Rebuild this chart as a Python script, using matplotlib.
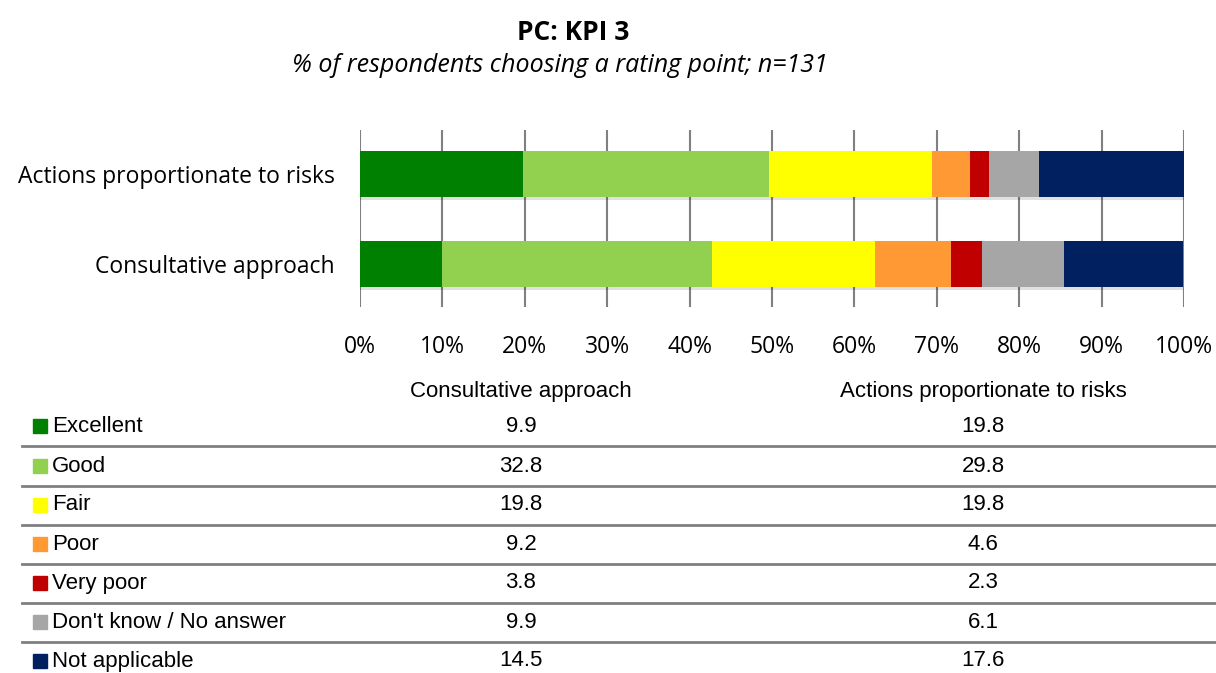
#!/usr/bin/env python3
# -*- coding: utf-8 -*-
import matplotlib
matplotlib.use("Agg")
import matplotlib.pyplot as plt
import matplotlib.patheffects as pe

# Survey data: % of respondents per rating point (n=131)
categories = ["Consultative approach", "Actions proportionate to risks"]
ratings = ["Excellent", "Good", "Fair", "Poor", "Very poor",
           "Don't know / No answer", "Not applicable"]
consultative = [9.9, 32.8, 19.8, 9.2, 3.8, 9.9, 14.5]
actions = [19.8, 29.8, 19.8, 4.6, 2.3, 6.1, 17.6]
colors = ["#008000", "#92D050", "#FFFF00", "#FF9933", "#C00000", "#A6A6A6", "#002060"]
xticks = [0, 10, 20, 30, 40, 50, 60, 70, 80, 90, 100]

W, H = 1216, 673
fig = plt.figure(figsize=(W / 100, H / 100), dpi=100)

chart_font = ["Open Sans", "DejaVu Sans"]
table_font = ["Liberation Sans", "DejaVu Sans"]

fig.text(573 / W, 1 - 33 / H, "PC: KPI 3", ha="center", va="center",
         fontsize=19, fontweight="bold", family=chart_font)
fig.text(560 / W, 1 - 66 / H, "% of respondents choosing a rating point; n=131",
         ha="center", va="center", fontsize=18, style="italic", family=chart_font)

# bar chart area
ax = fig.add_axes([360 / W, 1 - 307 / H, 824 / W, 177 / H])
series = [consultative, actions]
left = [0.0, 0.0]
shadow = [pe.SimplePatchShadow(offset=(0, -2), shadow_rgbFace="#000000", alpha=0.12), pe.Normal()]
for i, r in enumerate(ratings):
    vals = [s[i] for s in series]
    ax.barh([0, 1], vals, left=left, height=0.51, color=colors[i],
            edgecolor="none", zorder=3, path_effects=shadow)
    left = [l + v for l, v in zip(left, vals)]

ax.set_xlim(0, 100)
ax.set_ylim(-0.478, 1.489)
ax.set_xticks(xticks)
ax.set_xticklabels([f"{t}%" for t in xticks], family=chart_font, fontsize=16.5)
ax.set_yticks([0, 1])
ax.set_yticklabels(categories, family=chart_font, fontsize=16.5)
ax.tick_params(axis="both", length=0)
ax.tick_params(axis="x", pad=20)
ax.tick_params(axis="y", pad=18)
for sp in ax.spines.values():
    sp.set_visible(False)
ax.grid(axis="x", color="#808080", linewidth=1.5, zorder=0)
ax.set_axisbelow(True)

# data table below the chart
row_y = [426, 466, 505, 544, 583, 622, 661]
col_x = [521, 983]
fig.text(col_x[0] / W, 1 - 392 / H, categories[0], ha="center", va="center",
         fontsize=16, family=table_font)
fig.text(col_x[1] / W, 1 - 392 / H, categories[1], ha="center", va="center",
         fontsize=16, family=table_font)
for i, r in enumerate(ratings):
    y = 1 - row_y[i] / H
    fig.patches.append(plt.Rectangle((33 / W, 1 - 433 / H + (426 - row_y[i]) / H), 14 / W, 14 / H,
                                     transform=fig.transFigure, color=colors[i]))
    fig.text(52 / W, y, r, ha="left", va="center", fontsize=16, family=table_font)
    fig.text(col_x[0] / W, y, f"{consultative[i]:.1f}", ha="center", va="center",
             fontsize=16, family=table_font)
    fig.text(col_x[1] / W, y, f"{actions[i]:.1f}", ha="center", va="center",
             fontsize=16, family=table_font)
    if i < len(ratings) - 1:
        ly = 1 - (row_y[i] + 20) / H
        fig.add_artist(plt.Line2D([22 / W, 1], [ly, ly], transform=fig.transFigure,
                                  color="#808080", linewidth=2))

fig.savefig("out.png", dpi=100)
